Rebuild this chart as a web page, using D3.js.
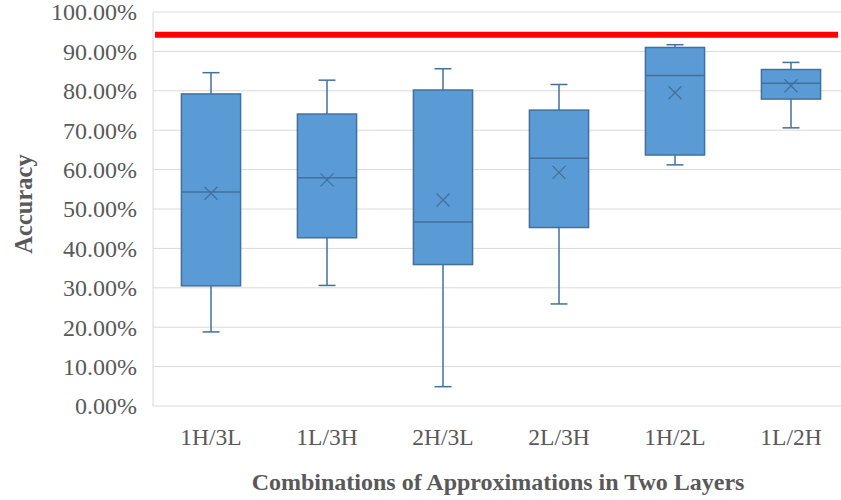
<!DOCTYPE html>
<html><head><meta charset="utf-8">
<script src="https://cdn.jsdelivr.net/npm/d3@7"></script>
<style>body{margin:0;background:#fff;} svg{display:block;}</style>
</head><body>
<svg id="chart" width="841" height="500"></svg>
<script>
const categories = ["1H/3L","1L/3H","2H/3L","2L/3H","1H/2L","1L/2H"];
const minVals    = [18.8, 30.6, 4.9, 25.9, 61.2, 70.6];
const q1Vals     = [30.5, 42.7, 35.9, 45.3, 63.7, 77.9];
const medianVals = [54.3, 57.9, 46.7, 62.9, 83.9, 81.9];
const q3Vals     = [79.2, 74.1, 80.2, 75.1, 91.0, 85.4];
const maxVals    = [84.6, 82.7, 85.6, 81.6, 91.7, 87.2];
const meanVals   = [54.0, 57.4, 52.3, 59.3, 79.5, 81.3];
const refLine    = 94.2;
const yTicks     = [0,10,20,30,40,50,60,70,80,90,100];

const svg = d3.select("#chart");
const pLeft = 153, pTop = 12, pBottom = 406, pRight = 849;
const x = d3.scaleBand().domain(categories).range([pLeft, pRight]).paddingInner(0.49).paddingOuter(0.245);
const y = d3.scaleLinear().domain([0,100]).range([pBottom, pTop]);
const font = "'Liberation Serif','Times New Roman',serif";
const txt = "#595959", boxFill = "#5B9BD5", boxStroke = "#41719C";

// gridlines
svg.append("g").selectAll("line").data(yTicks).join("line")
  .attr("x1", pLeft).attr("x2", 841)
  .attr("y1", d => y(d)).attr("y2", d => y(d))
  .attr("stroke", "#D9D9D9").attr("stroke-width", 1);
svg.append("line").attr("x1", pLeft).attr("x2", pLeft).attr("y1", y(100)).attr("y2", y(0))
  .attr("stroke", "#D9D9D9");

// y tick labels
svg.append("g").selectAll("text").data(yTicks).join("text")
  .attr("x", 137).attr("y", d => y(d)).attr("dy", "0.35em")
  .attr("text-anchor", "end").attr("font-family", font).attr("font-size", 24)
  .attr("fill", txt).text(d => d.toFixed(2) + "%");

// red reference line
svg.append("line").attr("x1", 155).attr("x2", 838)
  .attr("y1", y(refLine)).attr("y2", y(refLine))
  .attr("stroke", "#FF0000").attr("stroke-width", 6);

const data = categories.map((c,i) => ({c, min:minVals[i], q1:q1Vals[i], med:medianVals[i], q3:q3Vals[i], max:maxVals[i], mean:meanVals[i]}));
const bw = x.bandwidth();
const g = svg.append("g").selectAll("g").data(data).join("g");
const cx = d => x(d.c) + bw/2;
const cap = 8.5;
// whiskers
g.append("line").attr("x1", cx).attr("x2", cx).attr("y1", d => y(d.max)).attr("y2", d => y(d.q3))
  .attr("stroke", boxStroke).attr("stroke-width", 1.5);
g.append("line").attr("x1", cx).attr("x2", cx).attr("y1", d => y(d.q1)).attr("y2", d => y(d.min))
  .attr("stroke", boxStroke).attr("stroke-width", 1.5);
g.append("line").attr("x1", d => cx(d)-cap).attr("x2", d => cx(d)+cap).attr("y1", d => y(d.max)).attr("y2", d => y(d.max))
  .attr("stroke", boxStroke).attr("stroke-width", 1.5);
g.append("line").attr("x1", d => cx(d)-cap).attr("x2", d => cx(d)+cap).attr("y1", d => y(d.min)).attr("y2", d => y(d.min))
  .attr("stroke", boxStroke).attr("stroke-width", 1.5);
// box
g.append("rect").attr("x", d => x(d.c)).attr("width", bw)
  .attr("y", d => y(d.q3)).attr("height", d => y(d.q1) - y(d.q3))
  .attr("fill", boxFill).attr("stroke", boxStroke).attr("stroke-width", 1.5);
// median
g.append("line").attr("x1", d => x(d.c)).attr("x2", d => x(d.c)+bw).attr("y1", d => y(d.med)).attr("y2", d => y(d.med))
  .attr("stroke", boxStroke).attr("stroke-width", 1.5);
// mean X
const ms = 6.5;
g.append("path").attr("d", d => {const X=cx(d), Y=y(d.mean); return `M${X-ms},${Y-ms}L${X+ms},${Y+ms}M${X-ms},${Y+ms}L${X+ms},${Y-ms}`;})
  .attr("stroke", boxStroke).attr("stroke-width", 1.3).attr("fill","none");

// x labels
svg.append("g").selectAll("text").data(categories).join("text")
  .attr("x", d => x(d) + bw/2).attr("y", 445)
  .attr("text-anchor", "middle").attr("font-family", font).attr("font-size", 23.5)
  .attr("fill", txt).text(d => d);

// axis titles
svg.append("text").attr("x", 498).attr("y", 490).attr("text-anchor", "middle")
  .attr("font-family", font).attr("font-size", 24).attr("font-weight", "bold")
  .attr("fill", txt).text("Combinations of Approximations in Two Layers");
svg.append("text").attr("transform", "translate(32,204) rotate(-90)").attr("text-anchor", "middle")
  .attr("font-family", font).attr("font-size", 24.5).attr("font-weight", "bold")
  .attr("fill", txt).text("Accuracy");
</script>
</body></html>
